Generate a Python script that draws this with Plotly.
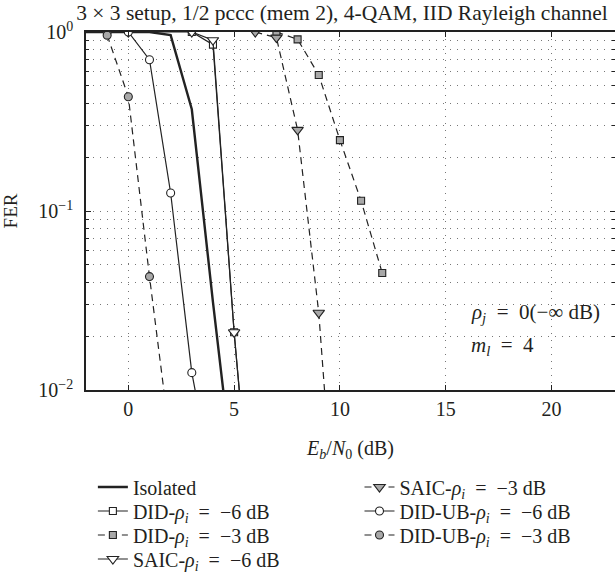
import plotly.graph_objects as go

# ---- data (Eb/N0 in dB, FER) ----
iso_x = [-2, -1, 0, 1, 2, 3, 4, 5]
iso_y = [1.0, 1.0, 1.0, 1.0, 0.96, 0.37, 0.031, 0.003]

did6_x = [3, 4, 5, 6]
did6_y = [1.0, 0.85, 0.021, 0.001]

did3_x = [7, 8, 9, 10, 11, 12]
did3_y = [1.0, 0.91, 0.575, 0.249, 0.114, 0.045]

saic6_x = [0, 3, 4, 5, 6]
saic6_y = [1.0, 1.0, 0.9, 0.021, 0.001]

saic3_x = [6, 7, 8, 9, 10]
saic3_y = [1.0, 0.93, 0.284, 0.027, 0.0007]

ub6_x = [-1, 0, 1, 2, 3, 4]
ub6_y = [1.0, 1.0, 0.70, 0.126, 0.0125, 0.003]

ub3_x = [-1, 0, 1, 2]
ub3_y = [0.96, 0.435, 0.043, 0.005]

x_ticks = [0, 5, 10, 15, 20]
y_ticks = [1, 0.1, 0.01]
y_ticktext = ["10<sup>0</sup>", "10<sup>−1</sup>", "10<sup>−2</sup>"]

FONT = "Liberation Serif"
TXT = "#231f20"
GREY = "#a8a8a8"
DASH = "7px,5px"
SP = "\u2002"  # math-like spacing around '='

fig = go.Figure()


def add(x, y, name, dash, symbol, fill, legend, width=1.2, size=8):
    mode = "lines" if symbol is None else "lines+markers"
    kw = {}
    if symbol is not None:
        kw["marker"] = dict(symbol=symbol, size=size, color=fill,
                            line=dict(color="#222", width=1.1))
    fig.add_trace(go.Scatter(x=x, y=y, name=name, mode=mode,
                             line=dict(color="#222", width=width, dash=dash),
                             legend=legend, **kw))


rho = "<i>ρ</i><sub><i>i</i></sub>"
eq = SP + "=" + SP
add(iso_x, iso_y, "Isolated", "solid", None, None, "legend", width=2.4)
add(did6_x, did6_y, "DID-" + rho + eq + "−6 dB", "solid", "square", "white", "legend2", size=7)
add(did3_x, did3_y, "DID-" + rho + eq + "−3 dB", DASH, "square", GREY, "legend3", size=7)
add(saic6_x, saic6_y, "SAIC-" + rho + eq + "−6 dB", "solid", "triangle-down", "white", "legend4", size=10)
add(saic3_x, saic3_y, "SAIC-" + rho + eq + "−3 dB", DASH, "triangle-down", GREY, "legend5", size=10)
add(ub6_x, ub6_y, "DID-UB-" + rho + eq + "−6 dB", "solid", "circle", "white", "legend6", size=8)
add(ub3_x, ub3_y, "DID-UB-" + rho + eq + "−3 dB", DASH, "circle", GREY, "legend7", size=8)

grid = dict(gridcolor="#777", griddash="1px,6px", gridwidth=1)

fig.update_xaxes(range=[-2, 23], tickvals=x_ticks, showgrid=True, **grid,
                 showline=True, linecolor="#222", linewidth=1.5, mirror="ticks",
                 ticks="inside", ticklen=5, tickcolor="#222",
                 zeroline=False, automargin=False, tickfont=dict(size=20),
                 title=dict(text="<i>E</i><sub><i>b</i></sub>/<i>N</i><sub>0</sub> (dB)",
                            standoff=22, font=dict(size=20)))
fig.update_yaxes(type="log", range=[-2, 0], tickvals=y_ticks, ticktext=y_ticktext,
                 showgrid=True, **grid, automargin=False, tickfont=dict(size=20),
                 ticklabelstandoff=7,
                 showline=True, linecolor="#222", linewidth=1.5, mirror="ticks",
                 ticks="inside", ticklen=5, tickcolor="#222",
                 minor=dict(ticks="inside", ticklen=3, tickcolor="#222", showgrid=True,
                            gridcolor="#777", griddash="1px,6px", dtick="D1"),
                 title=dict(text="FER", standoff=17, font=dict(size=19)))

fig.add_annotation(x=16.1, y=-1.57, xref="x", yref="y", xanchor="left", yanchor="middle",
                   text="<i>ρ</i><sub><i>j</i></sub>" + eq + "0(−∞ dB)", showarrow=False,
                   font=dict(size=21))
fig.add_annotation(x=16.1, y=-1.755, xref="x", yref="y", xanchor="left", yanchor="middle",
                   text="<i>m</i><sub><i>l</i></sub>" + eq + "4", showarrow=False,
                   font=dict(size=21))

# legend placement: two columns, one row per legend
col1, col2 = 0.013, 0.517
rows = [-0.271, -0.338, -0.405, -0.472]
leg_common = dict(xanchor="left", yanchor="middle", bgcolor="rgba(0,0,0,0)",
                  font=dict(size=20), borderwidth=0)
fig.update_layout(
    width=615, height=582,
    margin=dict(l=86, r=0, t=32, b=192),
    paper_bgcolor="white", plot_bgcolor="white",
    font=dict(family=FONT, size=20, color=TXT),
    title=dict(text="3 × 3 setup, 1/2 pccc (mem 2), 4-QAM, IID Rayleigh channel",
               x=0.556, xanchor="center", y=0.978, yanchor="middle",
               font=dict(size=21.5)),
    legend=dict(x=col1, y=rows[0], **leg_common),
    legend2=dict(x=col1, y=rows[1], **leg_common),
    legend3=dict(x=col1, y=rows[2], **leg_common),
    legend4=dict(x=col1, y=rows[3], **leg_common),
    legend5=dict(x=col2, y=rows[0], **leg_common),
    legend6=dict(x=col2, y=rows[1], **leg_common),
    legend7=dict(x=col2, y=rows[2], **leg_common),
    showlegend=True,
)

fig.write_html("out.html", config={"displayModeBar": False},
               post_script="document.body.style.margin='0';document.body.style.overflow='hidden';")
